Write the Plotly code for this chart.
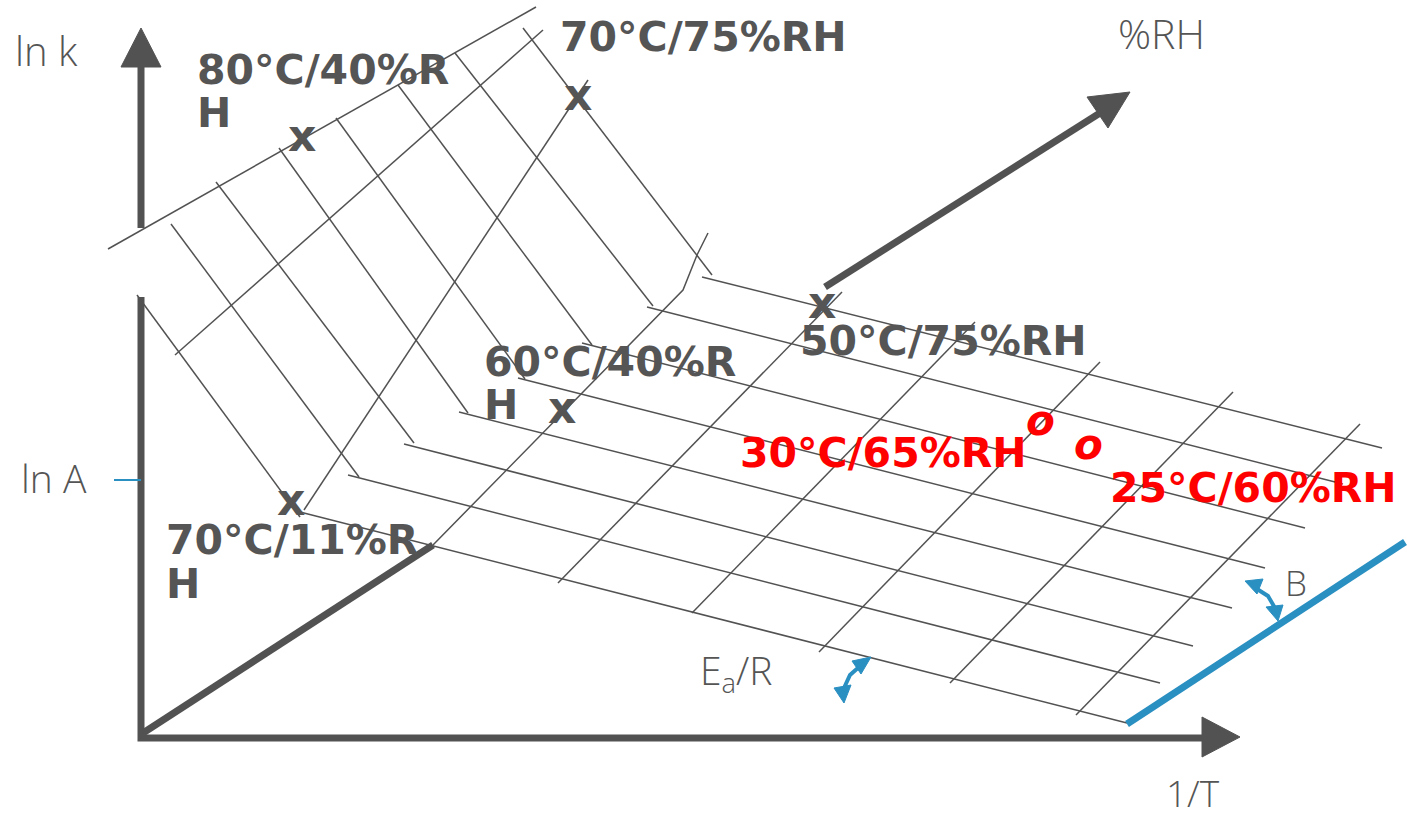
import plotly.graph_objects as go

W, H = 1407, 814
INK = "#525252"
TXT = "#555555"
BLUE = "#2A8FC1"
RED = "#FF0000"

# ---- surface grid -------------------------------------------------------
# constant-RH lines, steep (high temperature) leg: upper edge -> fold
RH_STEEP_START_X = [137, 171, 216, 279, 336, 398, 455, 523]
RH_STEEP_START_Y = [295, 224, 182, 148, 118, 85, 53, 28]
RH_STEEP_END_X = [300, 359, 414, 468, 525, 592, 653, 712]
RH_STEEP_END_Y = [517, 477, 443, 413, 379, 345, 306, 275]
# constant-RH lines, flat (low temperature) leg: fold -> front edge
RH_FLAT_START_X = [300, 348, 404, 459, 518, 582, 647, 702]
RH_FLAT_START_Y = [512, 475, 444, 412, 378, 343, 307, 277]
RH_FLAT_END_X = [1127, 1160, 1193, 1232, 1265, 1305, 1343, 1382]
RH_FLAT_END_Y = [723, 683, 646, 608, 568, 528, 484, 448]

# constant-T lines on the steep face
T_STEEP_X = [[108, 536], [175, 543], [304, 588]]
T_STEEP_Y = [[249, 7], [355, 30], [510, 80]]
# constant-T lines on the flat face
T_FLAT_X = [[433, 683, 697, 708], [558, 842], [692, 975], [819, 1100], [950, 1233], [1076, 1360]]
T_FLAT_Y = [[545, 290, 255, 233], [583, 292], [613, 322], [652, 362], [683, 392], [715, 424]]

# ---- coordinate axes ----------------------------------------------------
LNK_SHAFT_X, LNK_SHAFT_Y = [141, 141], [228, 67]
FRAME_X, FRAME_Y = [141, 141, 1202], [297, 738, 738]
RH_LOW_X, RH_LOW_Y = [143, 433], [733, 545]
RH_HIGH_X, RH_HIGH_Y = [825, 1100], [287, 113]
HEADS = [([121, 141, 161], [67, 28, 67]),
         ([1202, 1240, 1202], [717, 737, 757]),
         ([1087, 1130, 1108], [97, 92, 128])]

# ---- blue annotations (intercept tick, B plane, angle arrows) ------------
LNA_TICK_X, LNA_TICK_Y = [114, 141], [480, 480]
B_LINE_X, B_LINE_Y = [1127, 1405], [724, 542]
EA_ARC_X, EA_ARC_Y = [859, 850, 844], [667, 675, 688]
EA_HEADS = [([852, 871, 861], [661, 657, 674]), ([834, 851, 844], [688, 685, 703])]
B_ARC_X, B_ARC_Y = [1257, 1268, 1275], [589, 596, 608]
B_HEADS = [([1245, 1263, 1257], [581, 579, 594]), ([1266, 1283, 1278], [607, 605, 621])]

# ---- labels -------------------------------------------------------------
COND_TEXT = ["80°C/40%R", "H", "70°C/75%RH", "50°C/75%RH", "60°C/40%R", "H", "70°C/11%R", "H"]
COND_X = [195, 195, 558, 798, 482, 482, 164, 164]
COND_BASE = [85, 128, 52, 356, 377, 420, 555, 599]
RED_TEXT = ["30°C/65%RH", "25°C/60%RH"]
RED_X = [738, 1108]
RED_BASE = [468, 503]
AXIS_TEXT = ["ln k", "ln A", "%RH", "1/T", "E<sub>a</sub>/R", "B"]
AXIS_X = [13, 19, 1116, 1164, 698, 1283]
AXIS_BASE = [65, 492, 48, 806, 686, 595]
AXIS_SIZE = [40, 39, 41, 37, 39, 35]
CROSS_X = [302, 578, 822, 562, 291]
CROSS_Y = [138, 97, 305, 410, 502]
CIRCLE_X = [1040, 1088]
CIRCLE_Y = [423, 447]

fig = go.Figure()


def polyline(xs_list, ys_list, width, color):
    xs, ys = [], []
    for px, py in zip(xs_list, ys_list):
        xs += list(px) + [None]
        ys += list(py) + [None]
    fig.add_trace(go.Scatter(x=xs, y=ys, mode="lines",
                             line=dict(color=color, width=width),
                             hoverinfo="skip", showlegend=False))


def polygon(px, py, color):
    fig.add_trace(go.Scatter(x=list(px) + [px[0]], y=list(py) + [py[0]], mode="lines",
                             fill="toself", fillcolor=color,
                             line=dict(color=color, width=1),
                             hoverinfo="skip", showlegend=False))


# grid
polyline([[a, b] for a, b in zip(RH_STEEP_START_X, RH_STEEP_END_X)],
         [[a, b] for a, b in zip(RH_STEEP_START_Y, RH_STEEP_END_Y)], 1.5, INK)
polyline([[a, b] for a, b in zip(RH_FLAT_START_X, RH_FLAT_END_X)],
         [[a, b] for a, b in zip(RH_FLAT_START_Y, RH_FLAT_END_Y)], 1.5, INK)
polyline(T_STEEP_X, T_STEEP_Y, 1.5, INK)
polyline(T_FLAT_X, T_FLAT_Y, 1.5, INK)

# axes
polyline([LNK_SHAFT_X, FRAME_X, RH_LOW_X, RH_HIGH_X],
         [LNK_SHAFT_Y, FRAME_Y, RH_LOW_Y, RH_HIGH_Y], 7, INK)
for hx, hy in HEADS:
    polygon(hx, hy, INK)

# blue elements
polyline([LNA_TICK_X], [LNA_TICK_Y], 2, BLUE)
polyline([B_LINE_X], [B_LINE_Y], 7, BLUE)
polyline([EA_ARC_X, B_ARC_X], [EA_ARC_Y, B_ARC_Y], 4, BLUE)
for hx, hy in EA_HEADS + B_HEADS:
    polygon(hx, hy, BLUE)

annotations = []


def label(text, x, base, size, color, family, weight, anchor="left"):
    annotations.append(dict(text=text, x=x, y=base - 0.36 * size, xref="x", yref="y",
                            xanchor=anchor, yanchor="middle", showarrow=False,
                            font=dict(family=family, size=size, color=color, weight=weight)))


BOLD = "DejaVu Sans, Verdana, sans-serif"
LIGHT = "Open Sans, Segoe UI, sans-serif"
for t, x, b in zip(COND_TEXT, COND_X, COND_BASE):
    label(t, x, b, 41, TXT, BOLD, 700)
for t, x, b in zip(RED_TEXT, RED_X, RED_BASE):
    label(t, x, b, 41, RED, BOLD, 700)
for t, x, b, s in zip(AXIS_TEXT, AXIS_X, AXIS_BASE, AXIS_SIZE):
    label(t, x, b, s, TXT, LIGHT, 300)
for x, y in zip(CROSS_X, CROSS_Y):
    annotations.append(dict(text="x", x=x, y=y - 3, xref="x", yref="y", showarrow=False,
                            xanchor="center", yanchor="middle",
                            font=dict(family=BOLD, size=44, color=TXT, weight=700)))
for x, y in zip(CIRCLE_X, CIRCLE_Y):
    annotations.append(dict(text="<i>o</i>", x=x, y=y - 3, xref="x", yref="y", showarrow=False,
                            xanchor="center", yanchor="middle",
                            font=dict(family=BOLD, size=42, color=RED, weight=700)))

fig.update_layout(
    width=W, height=H, autosize=False,
    margin=dict(l=0, r=0, t=0, b=0, pad=0),
    paper_bgcolor="white", plot_bgcolor="white",
    xaxis=dict(range=[0, W], visible=False, fixedrange=True),
    yaxis=dict(range=[H, 0], visible=False, fixedrange=True),
    annotations=annotations, showlegend=False, hovermode=False,
)

fig.write_html("out.html")
